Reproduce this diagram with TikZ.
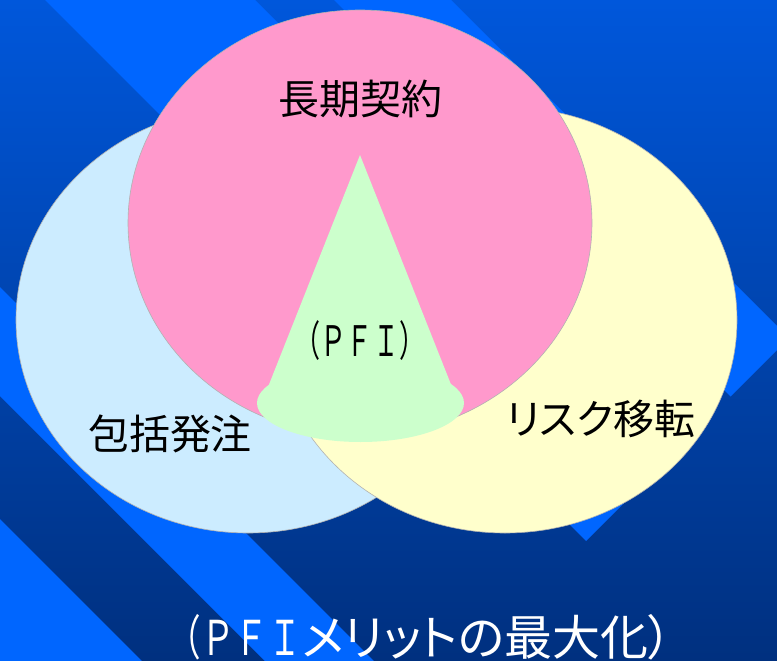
\documentclass[tikz,border=0pt]{standalone}
\usepackage{fontspec}
\usetikzlibrary{positioning}
\newfontfamily\jpfont[RawFeature=+palt]{Noto Sans CJK JP}
\newfontfamily\jpfontfw{Noto Sans CJK JP}
\definecolor{bgtop}{RGB}{0,87,219}
\definecolor{bgbottom}{RGB}{0,48,127}
\definecolor{stripeblue}{RGB}{0,102,255}
\definecolor{setpink}{RGB}{255,153,204}
\definecolor{setblue}{RGB}{204,236,255}
\definecolor{setyellow}{RGB}{255,255,204}
\definecolor{conegreen}{RGB}{204,255,204}

\begin{document}
\begin{tikzpicture}[x=1pt, y=-1pt,
    setshape/.style={draw=gray!60, line width=0.6pt},
    setlabel/.style={font=\jpfont\fontsize{41}{41}\selectfont, inner sep=0pt}]
    \useasboundingbox (0,0) rectangle (777,661);
    \clip (0,0) rectangle (777,661);

    % background with diagonal stripes
    \shade[top color=bgtop, bottom color=bgbottom] (0,0) rectangle (777,661);
    \fill[stripeblue] (45,0) -- (255,0) -- (691,436) -- (586,541) -- cycle;
    \fill[stripeblue] (334,0) -- (451,0) -- (789,338) -- (730.5,396.5) -- cycle;
    \fill[stripeblue] (0,287) -- (374,661) -- (265,661) -- (0,396) -- cycle;
    \fill[stripeblue] (0,519) -- (142,661) -- (0,661) -- cycle;

    % the three sets
    \filldraw[setshape, fill=setblue] (248,320) ellipse [x radius=232pt, y radius=213pt];
    \filldraw[setshape, fill=setyellow] (505,320) ellipse [x radius=232pt, y radius=213pt];
    \filldraw[setshape, fill=setpink] (360,223) ellipse [x radius=232pt, y radius=213pt];

    % cone in the middle
    \fill[conegreen] (360,155) -- (266,392) -- (454,392) -- cycle;
    \fill[conegreen] (360.5,403) ellipse [x radius=103.5pt, y radius=39pt];

    \node[setlabel] (longterm) at (360,99) {長期契約};
    \node[setlabel] (bundle) at (170,434) {包括発注};
    \node[setlabel] (risk) at (601,419) {リスク移転};
    \node[font=\jpfontfw\fontsize{42}{42}\selectfont, inner sep=0pt] (pfi) at (360,341) {\scalebox{0.62}[1]{（ＰＦＩ）}};

    \node[text=white, font=\jpfont\fontsize{48}{48}\selectfont, inner sep=0pt] (merit) at (420,637)
        {{\jpfontfw\scalebox{0.7}[1]{（ＰＦＩ}}メリットの最大化）};
\end{tikzpicture}
\end{document}
